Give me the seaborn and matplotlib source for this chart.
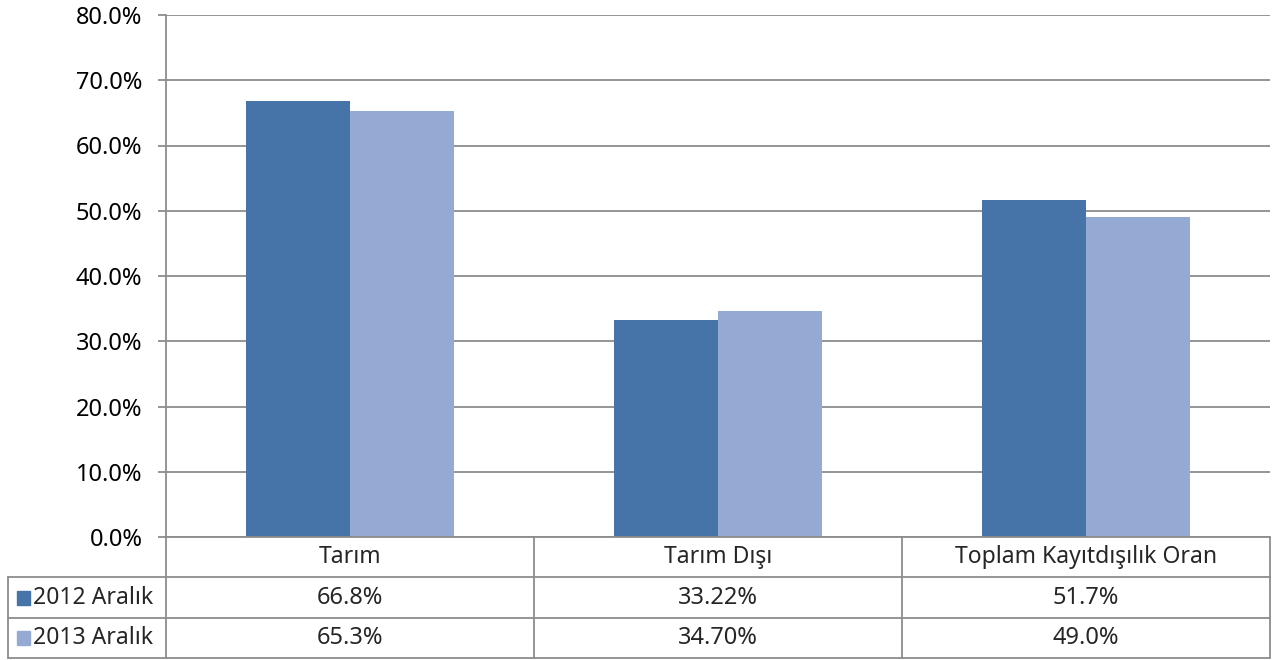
import matplotlib
matplotlib.use("Agg")
import matplotlib.pyplot as plt
import seaborn as sns
import pandas as pd
from matplotlib.lines import Line2D
from matplotlib.patches import Rectangle
from matplotlib.ticker import FuncFormatter

# data
categories = ["Tarım", "Tarım Dışı", "Toplam Kayıtdışılık Oran"]
series = ["2012 Aralık", "2013 Aralık"]
values_2012 = [66.8, 33.22, 51.7]
values_2013 = [65.3, 34.70, 49.0]
labels_2012 = ["66.8%", "33.22%", "51.7%"]
labels_2013 = ["65.3%", "34.70%", "49.0%"]
colors = ["#4673A8", "#95AAD2"]

df = pd.DataFrame({
    "cat": categories * 2,
    "year": [series[0]] * 3 + [series[1]] * 3,
    "val": values_2012 + values_2013,
})

sns.set_style("white")
plt.rcParams["font.family"] = ["Noto Sans", "DejaVu Sans"]
FS = 17

W, H = 1282, 660
fig = plt.figure(figsize=(W / 100, H / 100), dpi=100)

def fx(px):
    return px / W

def fy(py):
    return 1 - py / H

left, right, top, bottom = 166, 1270, 15, 537
ax = fig.add_axes([fx(left), fy(bottom), fx(right - left), (bottom - top) / H])

sns.barplot(data=df, x="cat", y="val", hue="year", palette=colors,
            width=0.566, gap=0, saturation=1, linewidth=0, ax=ax, legend=False)

grid_c = "#8C8C8C"
ax.set_ylim(0, 80)
ax.set_yticks(range(0, 81, 10))
ax.yaxis.set_major_formatter(FuncFormatter(lambda v, p: f"{v:.1f}%"))
ax.grid(axis="y", color=grid_c, lw=1.3)
ax.set_axisbelow(True)
for s in ["top", "right", "bottom"]:
    ax.spines[s].set_visible(False)
ax.spines["left"].set_color(grid_c)
ax.spines["left"].set_linewidth(1.3)
ax.tick_params(axis="y", left=True, length=6, width=1.3, color=grid_c,
               labelsize=FS, pad=11, labelcolor="black")
ax.set_xticks([])
ax.set_xlabel("")
ax.set_ylabel("")

# data table below
rows_y = [537, 577, 618, 658]
cols_x = [166, 534, 902, 1270]
lw = 1.3

def hline(x0, x1, y):
    fig.add_artist(Line2D([fx(x0), fx(x1)], [fy(y), fy(y)], color=grid_c, lw=lw,
                          transform=fig.transFigure))

def vline(x, y0, y1):
    fig.add_artist(Line2D([fx(x), fx(x)], [fy(y0), fy(y1)], color=grid_c, lw=lw,
                          transform=fig.transFigure))

hline(166, 1270, 537)
for y in rows_y[1:]:
    hline(8, 1270, y)
for x in cols_x:
    vline(x, 537, 658)
vline(8, 577, 658)

for i, c in enumerate(categories):
    cx = (cols_x[i] + cols_x[i + 1]) / 2
    fig.text(fx(cx), fy((rows_y[0] + rows_y[1]) / 2), c, ha="center", va="center", fontsize=FS - 0.5)
    fig.text(fx(cx), fy((rows_y[1] + rows_y[2]) / 2), labels_2012[i], ha="center", va="center", fontsize=FS)
    fig.text(fx(cx), fy((rows_y[2] + rows_y[3]) / 2), labels_2013[i], ha="center", va="center", fontsize=FS)

for j, name in enumerate(series):
    yc = (rows_y[j + 1] + rows_y[j + 2]) / 2
    fig.add_artist(Rectangle((fx(17), fy(yc + 7)), fx(13), 14 / H, color=colors[j],
                             transform=fig.transFigure))
    fig.text(fx(33), fy(yc), name, ha="left", va="center", fontsize=FS - 0.5)

fig.savefig("out.png", dpi=100)
